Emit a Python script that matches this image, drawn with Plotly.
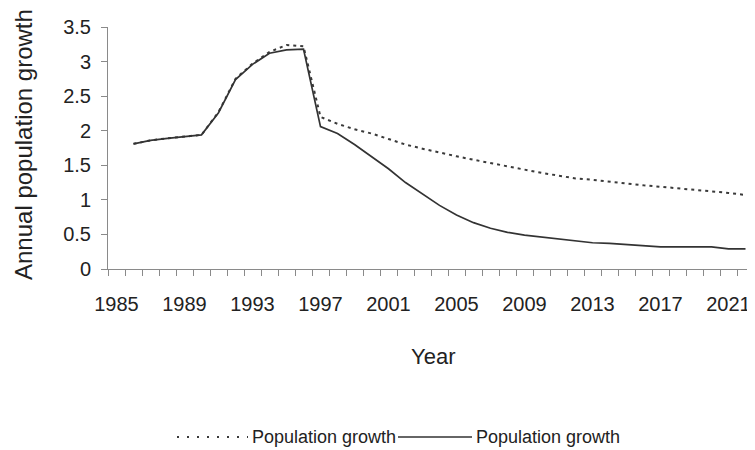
import plotly.graph_objects as go

years = list(range(1986, 2023))
growth_dotted = [1.81, 1.86, 1.89, 1.92, 1.94, 2.27, 2.75, 2.97, 3.14, 3.24, 3.22,
                 2.20, 2.10, 2.02, 1.96, 1.88, 1.80, 1.74, 1.68, 1.63, 1.58, 1.53,
                 1.48, 1.43, 1.39, 1.35, 1.31, 1.29, 1.26, 1.24, 1.21, 1.19, 1.17,
                 1.15, 1.13, 1.10, 1.07]
growth_solid = [1.81, 1.86, 1.89, 1.92, 1.94, 2.26, 2.74, 2.96, 3.12, 3.17, 3.18,
                2.06, 1.96, 1.80, 1.62, 1.45, 1.25, 1.08, 0.92, 0.78, 0.67, 0.59,
                0.53, 0.49, 0.46, 0.43, 0.40, 0.38, 0.37, 0.35, 0.33, 0.32, 0.32,
                0.32, 0.32, 0.29, 0.29]
tick_years = list(range(1985, 2022, 4))
y_ticks = [0, 0.5, 1, 1.5, 2, 2.5, 3, 3.5]
y_tick_text = ["0", "0.5", "1", "1.5", "2", "2.5", "3", "3.5"]
series_name = "Population growth"

FONT = "Liberation Sans, Arial, sans-serif"
TXT = "#222222"
AX = "#8a8a8a"

# page body has an 8px margin, so the figure is 8px smaller and shifted
L, T, W, H = 100, 19, 747, 442
PLOT_W = 646
PLOT_H = 242

fig = go.Figure()
fig.add_trace(go.Scatter(x=years, y=growth_dotted, mode="lines", name=series_name,
                         line=dict(color="#3a3a3a", width=2, dash="3px,4px"),
                         showlegend=False))
fig.add_trace(go.Scatter(x=years, y=growth_solid, mode="lines", name=series_name,
                         line=dict(color="#333333", width=1.7),
                         showlegend=False))

fig.update_layout(
    width=W, height=H,
    margin=dict(l=L, r=W - L - PLOT_W, t=T, b=H - T - PLOT_H, autoexpand=False),
    paper_bgcolor="white", plot_bgcolor="white",
    font=dict(family=FONT, size=20, color=TXT),
    xaxis=dict(range=[1984.5, 2022.5], tickmode="array", tickvals=tick_years,
               ticktext=[str(y) for y in tick_years], ticks="", showgrid=False,
               zeroline=False, showline=True, linecolor=AX, linewidth=1,
               ticklabelstandoff=17, tickfont=dict(size=20, family=FONT, color=TXT),
               minor=dict(ticks="outside", tick0=1984.5, dtick=1, ticklen=6,
                          tickcolor=AX, tickwidth=1, showgrid=False)),
    yaxis=dict(range=[0, 3.5], tickmode="array", tickvals=y_ticks, ticktext=y_tick_text,
               ticks="outside", ticklen=6, tickcolor=AX, showgrid=False,
               zeroline=False, showline=True, linecolor=AX, linewidth=1,
               ticklabelstandoff=6, tickfont=dict(size=20, family=FONT, color=TXT)),
)

def px_x(px):
    return (px - 108) / float(PLOT_W)

def px_y(px):
    return (269 - px) / float(PLOT_H)

# axis titles
fig.add_annotation(text="Annual population growth", xref="paper", yref="paper",
                   x=px_x(23), y=px_y(145), textangle=-90, showarrow=False,
                   xanchor="center", yanchor="middle",
                   font=dict(size=24, family=FONT, color=TXT))
fig.add_annotation(text="Year", xref="paper", yref="paper", x=px_x(433), y=px_y(356),
                   showarrow=False, xanchor="center", yanchor="middle",
                   font=dict(size=22, family=FONT, color=TXT))

# custom legend
ly = px_y(437)
fig.add_shape(type="line", xref="paper", yref="paper", x0=px_x(177), x1=px_x(248),
              y0=ly, y1=ly, line=dict(color="#3a3a3a", width=2, dash="2px,8px"))
fig.add_annotation(text=series_name, xref="paper", yref="paper", x=px_x(250), y=ly,
                   showarrow=False, xanchor="left", yanchor="middle",
                   font=dict(size=18, family=FONT, color=TXT))
fig.add_shape(type="line", xref="paper", yref="paper", x0=px_x(398), x1=px_x(472),
              y0=ly, y1=ly, line=dict(color="#333333", width=1.6))
fig.add_annotation(text=series_name, xref="paper", yref="paper", x=px_x(474), y=ly,
                   showarrow=False, xanchor="left", yanchor="middle",
                   font=dict(size=18, family=FONT, color=TXT))

fig.write_html("out.html")
